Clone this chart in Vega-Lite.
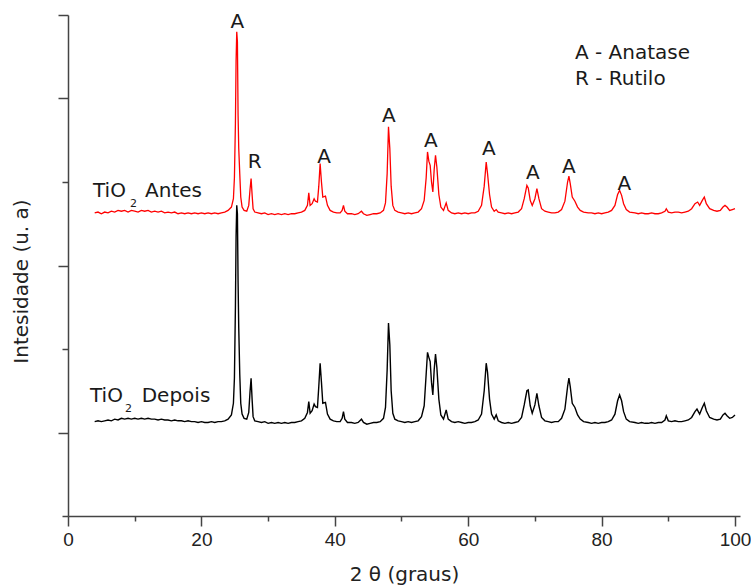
{
  "$schema": "https://vega.github.io/schema/vega-lite/v6.json",
  "width": 672,
  "height": 501,
  "autosize": "none",
  "padding": {"left": 68, "top": 15, "right": 11, "bottom": 69},
  "background": "white",
  "config": {"view": {"stroke": null}},
  "datasets": {
    "antes": [
      {"x":4.0,"y":363},{"x":4.5,"y":364},{"x":5,"y":362},{"x":5.5,"y":364},{"x":6,"y":363},{"x":6.5,"y":365},{"x":7,"y":364},{"x":7.5,"y":366},{"x":8,"y":365},{"x":8.5,"y":366},{"x":9,"y":364},{"x":9.5,"y":366},{"x":10,"y":365},{"x":10.5,"y":364},{"x":11,"y":366},{"x":11.5,"y":365},{"x":12,"y":366},{"x":12.5,"y":364},{"x":13,"y":365},{"x":13.5,"y":364},{"x":14,"y":365},{"x":14.5,"y":363},{"x":15,"y":364},{"x":15.5,"y":363},{"x":16,"y":364},{"x":16.5,"y":362},{"x":17,"y":363},{"x":17.5,"y":362},{"x":18,"y":363},{"x":18.5,"y":362},{"x":19,"y":363},{"x":19.5,"y":362},{"x":20,"y":363},{"x":20.5,"y":362},{"x":21,"y":363},{"x":21.5,"y":362},{"x":22,"y":363},{"x":22.5,"y":362},{"x":23,"y":363},{"x":23.5,"y":364},{"x":24,"y":366},{"x":24.5,"y":370},{"x":24.8,"y":380},{"x":24.95,"y":405},{"x":25.1,"y":470},{"x":25.2,"y":545},{"x":25.3,"y":580},{"x":25.4,"y":568},{"x":25.5,"y":480},{"x":25.6,"y":440},{"x":25.75,"y":410},{"x":25.9,"y":382},{"x":26.1,"y":370},{"x":26.4,"y":366},{"x":26.8,"y":365},{"x":27.1,"y":372},{"x":27.3,"y":392},{"x":27.45,"y":404},{"x":27.6,"y":385},{"x":27.75,"y":368},{"x":28.0,"y":364},{"x":28.5,"y":363},{"x":29,"y":362},{"x":29.5,"y":363},{"x":30,"y":361},{"x":30.5,"y":362},{"x":31,"y":361},{"x":31.5,"y":362},{"x":32,"y":361},{"x":32.5,"y":362},{"x":33,"y":361},{"x":33.5,"y":362},{"x":34,"y":362},{"x":34.5,"y":363},{"x":35,"y":364},{"x":35.5,"y":366},{"x":35.9,"y":372},{"x":36.1,"y":387},{"x":36.3,"y":372},{"x":36.6,"y":374},{"x":36.9,"y":380},{"x":37.1,"y":377},{"x":37.4,"y":376},{"x":37.6,"y":395},{"x":37.8,"y":422},{"x":38.0,"y":400},{"x":38.2,"y":382},{"x":38.6,"y":383},{"x":38.9,"y":372},{"x":39.3,"y":366},{"x":39.8,"y":364},{"x":40.3,"y":363},{"x":40.8,"y":363},{"x":41.1,"y":366},{"x":41.3,"y":372},{"x":41.5,"y":365},{"x":41.9,"y":362},{"x":42.5,"y":362},{"x":43,"y":361},{"x":43.5,"y":362},{"x":44.0,"y":365},{"x":44.3,"y":362},{"x":44.8,"y":360},{"x":45.3,"y":361},{"x":45.8,"y":362},{"x":46.3,"y":362},{"x":46.8,"y":363},{"x":47.3,"y":366},{"x":47.6,"y":375},{"x":47.85,"y":410},{"x":48.05,"y":466},{"x":48.25,"y":440},{"x":48.45,"y":395},{"x":48.7,"y":372},{"x":49.0,"y":366},{"x":49.5,"y":364},{"x":50,"y":363},{"x":50.5,"y":362},{"x":51,"y":363},{"x":51.5,"y":362},{"x":52,"y":363},{"x":52.5,"y":364},{"x":53.0,"y":368},{"x":53.4,"y":378},{"x":53.7,"y":405},{"x":53.9,"y":436},{"x":54.1,"y":425},{"x":54.3,"y":420},{"x":54.5,"y":400},{"x":54.7,"y":388},{"x":54.9,"y":415},{"x":55.1,"y":432},{"x":55.3,"y":418},{"x":55.6,"y":385},{"x":55.9,"y":370},{"x":56.3,"y":366},{"x":56.7,"y":375},{"x":57.0,"y":366},{"x":57.5,"y":363},{"x":58,"y":362},{"x":58.5,"y":363},{"x":59,"y":362},{"x":59.5,"y":363},{"x":60,"y":362},{"x":60.5,"y":363},{"x":61,"y":363},{"x":61.5,"y":365},{"x":62.0,"y":372},{"x":62.4,"y":395},{"x":62.7,"y":424},{"x":62.9,"y":410},{"x":63.2,"y":385},{"x":63.5,"y":370},{"x":63.9,"y":365},{"x":64.2,"y":367},{"x":64.5,"y":364},{"x":65,"y":363},{"x":65.5,"y":362},{"x":66,"y":363},{"x":66.5,"y":362},{"x":67,"y":363},{"x":67.5,"y":364},{"x":68.0,"y":368},{"x":68.4,"y":380},{"x":68.8,"y":396},{"x":69.0,"y":393},{"x":69.3,"y":378},{"x":69.6,"y":372},{"x":70.0,"y":380},{"x":70.3,"y":392},{"x":70.6,"y":380},{"x":71.0,"y":368},{"x":71.5,"y":365},{"x":72,"y":364},{"x":72.5,"y":363},{"x":73,"y":363},{"x":73.5,"y":364},{"x":74.0,"y":367},{"x":74.5,"y":377},{"x":74.9,"y":400},{"x":75.1,"y":407},{"x":75.3,"y":398},{"x":75.6,"y":382},{"x":76.0,"y":377},{"x":76.4,"y":370},{"x":76.8,"y":366},{"x":77.3,"y":364},{"x":78,"y":363},{"x":78.5,"y":363},{"x":79,"y":362},{"x":79.5,"y":363},{"x":80,"y":362},{"x":80.5,"y":363},{"x":81,"y":364},{"x":81.5,"y":366},{"x":82.0,"y":372},{"x":82.4,"y":385},{"x":82.7,"y":390},{"x":83.0,"y":384},{"x":83.3,"y":374},{"x":83.7,"y":367},{"x":84.2,"y":364},{"x":85,"y":363},{"x":85.5,"y":362},{"x":86,"y":363},{"x":86.5,"y":362},{"x":87,"y":362},{"x":87.5,"y":363},{"x":88,"y":362},{"x":88.5,"y":362},{"x":89,"y":363},{"x":89.5,"y":365},{"x":89.7,"y":368},{"x":90.0,"y":364},{"x":90.5,"y":363},{"x":91,"y":364},{"x":91.5,"y":364},{"x":92,"y":363},{"x":92.5,"y":364},{"x":93,"y":365},{"x":93.5,"y":368},{"x":94.0,"y":374},{"x":94.4,"y":376},{"x":94.7,"y":372},{"x":95.1,"y":378},{"x":95.4,"y":382},{"x":95.7,"y":374},{"x":96.2,"y":368},{"x":96.8,"y":366},{"x":97.3,"y":365},{"x":97.8,"y":366},{"x":98.2,"y":370},{"x":98.5,"y":372},{"x":98.8,"y":370},{"x":99.2,"y":366},{"x":99.6,"y":367},{"x":100,"y":368}
    ],
    "depois": [
      {"x":4.0,"y":113},{"x":4.5,"y":114},{"x":5,"y":113},{"x":5.5,"y":114},{"x":6,"y":115},{"x":6.5,"y":114},{"x":7,"y":116},{"x":7.5,"y":115},{"x":8,"y":117},{"x":8.5,"y":116},{"x":9,"y":117},{"x":9.5,"y":116},{"x":10,"y":117},{"x":10.5,"y":116},{"x":11,"y":117},{"x":11.5,"y":116},{"x":12,"y":117},{"x":12.5,"y":116},{"x":13,"y":116},{"x":13.5,"y":115},{"x":14,"y":116},{"x":14.5,"y":115},{"x":15,"y":115},{"x":15.5,"y":114},{"x":16,"y":115},{"x":16.5,"y":114},{"x":17,"y":114},{"x":17.5,"y":113},{"x":18,"y":114},{"x":18.5,"y":113},{"x":19,"y":113},{"x":19.5,"y":112},{"x":20,"y":113},{"x":20.5,"y":112},{"x":21,"y":112},{"x":21.5,"y":113},{"x":22,"y":112},{"x":22.5,"y":113},{"x":23,"y":113},{"x":23.5,"y":114},{"x":24,"y":116},{"x":24.5,"y":121},{"x":24.8,"y":135},{"x":24.95,"y":165},{"x":25.1,"y":250},{"x":25.2,"y":335},{"x":25.3,"y":372},{"x":25.4,"y":362},{"x":25.5,"y":280},{"x":25.6,"y":225},{"x":25.75,"y":170},{"x":25.9,"y":135},{"x":26.1,"y":122},{"x":26.4,"y":117},{"x":26.8,"y":116},{"x":27.1,"y":124},{"x":27.3,"y":150},{"x":27.45,"y":165},{"x":27.6,"y":140},{"x":27.75,"y":119},{"x":28.0,"y":114},{"x":28.5,"y":113},{"x":29,"y":112},{"x":29.5,"y":113},{"x":30,"y":111},{"x":30.5,"y":112},{"x":31,"y":111},{"x":31.5,"y":112},{"x":32,"y":111},{"x":32.5,"y":112},{"x":33,"y":111},{"x":33.5,"y":112},{"x":34,"y":112},{"x":34.5,"y":113},{"x":35,"y":114},{"x":35.5,"y":117},{"x":35.9,"y":124},{"x":36.1,"y":137},{"x":36.3,"y":123},{"x":36.6,"y":126},{"x":36.9,"y":134},{"x":37.1,"y":131},{"x":37.4,"y":130},{"x":37.6,"y":155},{"x":37.8,"y":183},{"x":38.0,"y":160},{"x":38.2,"y":135},{"x":38.6,"y":136},{"x":38.9,"y":122},{"x":39.3,"y":116},{"x":39.8,"y":114},{"x":40.3,"y":113},{"x":40.8,"y":113},{"x":41.1,"y":117},{"x":41.3,"y":125},{"x":41.5,"y":116},{"x":41.9,"y":112},{"x":42.5,"y":112},{"x":43,"y":111},{"x":43.5,"y":112},{"x":44.0,"y":116},{"x":44.3,"y":112},{"x":44.8,"y":110},{"x":45.3,"y":111},{"x":45.8,"y":112},{"x":46.3,"y":112},{"x":46.8,"y":113},{"x":47.3,"y":117},{"x":47.6,"y":130},{"x":47.85,"y":175},{"x":48.05,"y":231},{"x":48.25,"y":205},{"x":48.45,"y":150},{"x":48.7,"y":123},{"x":49.0,"y":116},{"x":49.5,"y":114},{"x":50,"y":113},{"x":50.5,"y":112},{"x":51,"y":113},{"x":51.5,"y":112},{"x":52,"y":113},{"x":52.5,"y":114},{"x":53.0,"y":119},{"x":53.4,"y":132},{"x":53.7,"y":170},{"x":53.9,"y":196},{"x":54.1,"y":190},{"x":54.3,"y":185},{"x":54.5,"y":160},{"x":54.7,"y":145},{"x":54.9,"y":175},{"x":55.1,"y":194},{"x":55.3,"y":178},{"x":55.6,"y":140},{"x":55.9,"y":121},{"x":56.3,"y":116},{"x":56.7,"y":127},{"x":57.0,"y":116},{"x":57.5,"y":113},{"x":58,"y":112},{"x":58.5,"y":113},{"x":59,"y":112},{"x":59.5,"y":111},{"x":60,"y":112},{"x":60.5,"y":112},{"x":61,"y":113},{"x":61.5,"y":115},{"x":62.0,"y":122},{"x":62.4,"y":150},{"x":62.7,"y":183},{"x":62.9,"y":172},{"x":63.2,"y":140},{"x":63.5,"y":122},{"x":63.9,"y":116},{"x":64.2,"y":121},{"x":64.5,"y":114},{"x":65,"y":112},{"x":65.5,"y":111},{"x":66,"y":112},{"x":66.5,"y":111},{"x":67,"y":112},{"x":67.5,"y":113},{"x":68.0,"y":118},{"x":68.4,"y":133},{"x":68.8,"y":150},{"x":69.0,"y":151},{"x":69.3,"y":132},{"x":69.6,"y":123},{"x":70.0,"y":133},{"x":70.3,"y":147},{"x":70.6,"y":132},{"x":71.0,"y":118},{"x":71.5,"y":114},{"x":72,"y":113},{"x":72.5,"y":112},{"x":73,"y":113},{"x":73.5,"y":113},{"x":74.0,"y":117},{"x":74.5,"y":128},{"x":74.9,"y":155},{"x":75.1,"y":165},{"x":75.3,"y":155},{"x":75.6,"y":135},{"x":76.0,"y":130},{"x":76.4,"y":121},{"x":76.8,"y":116},{"x":77.3,"y":113},{"x":78,"y":112},{"x":78.5,"y":111},{"x":79,"y":112},{"x":79.5,"y":111},{"x":80,"y":112},{"x":80.5,"y":112},{"x":81,"y":113},{"x":81.5,"y":115},{"x":82.0,"y":122},{"x":82.4,"y":138},{"x":82.7,"y":145},{"x":83.0,"y":138},{"x":83.3,"y":125},{"x":83.7,"y":116},{"x":84.2,"y":113},{"x":85,"y":112},{"x":85.5,"y":111},{"x":86,"y":112},{"x":86.5,"y":111},{"x":87,"y":111},{"x":87.5,"y":112},{"x":88,"y":111},{"x":88.5,"y":112},{"x":89,"y":112},{"x":89.5,"y":115},{"x":89.7,"y":120},{"x":90.0,"y":114},{"x":90.5,"y":113},{"x":91,"y":114},{"x":91.5,"y":113},{"x":92,"y":113},{"x":92.5,"y":114},{"x":93,"y":115},{"x":93.5,"y":118},{"x":94.0,"y":125},{"x":94.3,"y":128},{"x":94.7,"y":122},{"x":95.1,"y":130},{"x":95.4,"y":135},{"x":95.7,"y":126},{"x":96.2,"y":118},{"x":96.8,"y":116},{"x":97.3,"y":115},{"x":97.8,"y":116},{"x":98.2,"y":121},{"x":98.5,"y":123},{"x":98.8,"y":120},{"x":99.2,"y":117},{"x":99.6,"y":118},{"x":100,"y":121}
    ],
    "peaks": [
      {"x":25.4,"y":585,"t":"A"},{"x":28.0,"y":417,"t":"R"},{"x":38.4,"y":423,"t":"A"},{"x":48.1,"y":472,"t":"A"},{"x":54.4,"y":442,"t":"A"},{"x":63.1,"y":432,"t":"A"},{"x":69.7,"y":404,"t":"A"},{"x":75.1,"y":411,"t":"A"},{"x":83.4,"y":390,"t":"A"}
    ],
    "labels": [
      {"x":3.75,"y":382,"t":"TiO","size":20},{"x":9.3,"y":370,"t":"2","size":11},{"x":11.55,"y":382,"t":"Antes","size":20},
      {"x":3.3,"y":137,"t":"TiO","size":20},{"x":8.55,"y":125,"t":"2","size":11},{"x":11.05,"y":137,"t":"Depois","size":20},
      {"x":76.0,"y":547,"t":"A - Anatase","size":20},{"x":76.0,"y":516,"t":"R - Rutilo","size":20}
    ]
  },
  "encoding": {
    "x": {
      "field": "x", "type": "quantitative",
      "scale": {"domain": [0, 100.75], "nice": false, "zero": false},
      "axis": {
        "values": [0,10,20,30,40,50,60,70,80,90,100],
        "labelExpr": "datum.value % 20 === 0 ? datum.label : ''",
        "tickSize": {"condition": {"test": "datum.value % 20 === 0", "value": 10}, "value": 5},
        "grid": false, "labelFlush": false,
        "labelFont": "Liberation Sans", "labelFontSize": 19, "labelColor": "#222", "labelPadding": 4,
        "domainColor": "#444", "tickColor": "#444", "domainWidth": 1.5, "tickWidth": 1.5,
        "title": "2 θ (graus)", "titleFont": "DejaVu Sans", "titleFontSize": 20, "titleFontWeight": "normal", "titleColor": "#222",
        "titleY": 64, "titleBaseline": "alphabetic"
      }
    },
    "y": {
      "field": "y", "type": "quantitative",
      "scale": {"domain": [0, 600], "nice": false, "zero": false},
      "axis": {
        "values": [0,100,200,300,400,500,600],
        "labels": false,
        "tickSize": {"condition": {"test": "datum.value % 200 === 0 && datum.value < 600", "value": 6}, "value": 10},
        "grid": false,
        "domainColor": "#444", "tickColor": "#444", "domainWidth": 1.5, "tickWidth": 1.5,
        "title": "Intesidade (u. a)", "titleFont": "DejaVu Sans", "titleFontSize": 20, "titleFontWeight": "normal", "titleColor": "#222",
        "titleX": -41, "titleY": 266, "titleBaseline": "alphabetic", "titleAngle": -90
      }
    }
  },
  "layer": [
    {"data": {"name": "depois"}, "mark": {"type": "line", "color": "#000000", "strokeWidth": 1.4}},
    {"data": {"name": "antes"}, "mark": {"type": "line", "color": "#ff0000", "strokeWidth": 1.3}},
    {"data": {"name": "peaks"}, "mark": {"type": "text", "font": "DejaVu Sans", "fontSize": 20, "color": "#1a1a1a", "align": "center", "baseline": "alphabetic"}, "encoding": {"text": {"field": "t"}}},
    {"data": {"name": "labels"}, "mark": {"type": "text", "font": "DejaVu Sans", "color": "#1a1a1a", "align": "left", "baseline": "alphabetic"}, "encoding": {"text": {"field": "t"}, "size": {"field": "size", "type": "quantitative", "scale": null}}}
  ]
}
